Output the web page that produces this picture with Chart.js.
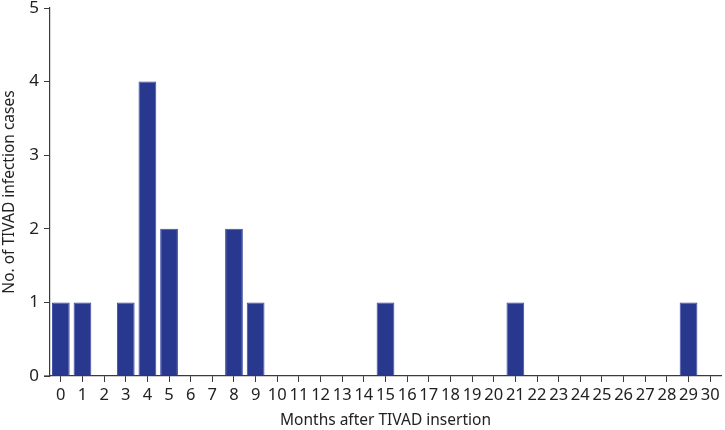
<!DOCTYPE html>
<html><head><meta charset="utf-8">
<script src="https://cdn.jsdelivr.net/npm/chart.js@4/dist/chart.umd.min.js"></script>
<style>html,body{margin:0;padding:0;background:#fff}#wrap{width:725px;height:430px}</style>
</head><body><div id="wrap"><canvas id="c" width="725" height="430"></canvas></div>
<script>
const months = ['0','1','2','3','4','5','6','7','8','9','10','11','12','13','14','15','16','17','18','19','20','21','22','23','24','25','26','27','28','29','30'];
const cases = [1,1,0,1,4,2,0,0,2,1,0,0,0,0,0,1,0,0,0,0,0,1,0,0,0,0,0,0,0,1,0];
const yTicks = [0,1,2,3,4,5];
const FONT = "'Noto Sans', 'Open Sans', Arial, sans-serif";
const axisColor = '#3a3a3a';
const axisStub = {
  id: 'axisStub',
  afterDraw(chart) {
    const { ctx, chartArea } = chart;
    ctx.save();
    ctx.strokeStyle = axisColor; ctx.lineWidth = 1.2;
    ctx.beginPath(); ctx.moveTo(chartArea.left - 6, chartArea.bottom); ctx.lineTo(chartArea.left, chartArea.bottom); ctx.stroke();
    ctx.restore();
  }
};
new Chart(document.getElementById('c'), {
  type: 'bar',
  data: { labels: months, datasets: [{ data: cases, backgroundColor: '#29388f', borderColor: '#3b4aa0', borderWidth: 1, categoryPercentage: 1, barPercentage: 0.82 }] },
  options: {
    responsive: false, animation: false,
    layout: { padding: { top: 0, right: 4, left: 0, bottom: 0 } },
    plugins: { legend: { display: false }, tooltip: { enabled: false } },
    scales: {
      x: {
        offset: true,
        grid: { offset: false, drawOnChartArea: false, drawTicks: true, tickLength: 6, color: axisColor },
        border: { color: axisColor, width: 1.2 },
        ticks: { color: '#222', font: { family: FONT, size: 16.5 }, padding: 3, maxRotation: 0, autoSkip: false },
        title: { display: true, text: 'Months after TIVAD insertion', color: '#222', font: { family: FONT, size: 15.5 }, padding: { top: 4, bottom: 0 } },
        afterFit: s => { s.height = 54; }
      },
      y: {
        min: 0, max: 5,
        afterBuildTicks: s => { s.ticks = yTicks.map(v => ({ value: v })); },
        grid: { drawOnChartArea: false, drawTicks: true, tickLength: 6, color: axisColor },
        border: { color: axisColor, width: 1.2 },
        ticks: { color: '#222', font: { family: FONT, size: 17 }, padding: 5 },
        title: { display: true, text: 'No. of TIVAD infection cases', color: '#222', font: { family: FONT, size: 15.5 }, padding: { top: 0, bottom: 0 } },
        afterFit: s => { s.width = 50; s.paddingTop = 8; s.paddingBottom = 0; }
      }
    }
  },
  plugins: [axisStub]
});
</script></body></html>
